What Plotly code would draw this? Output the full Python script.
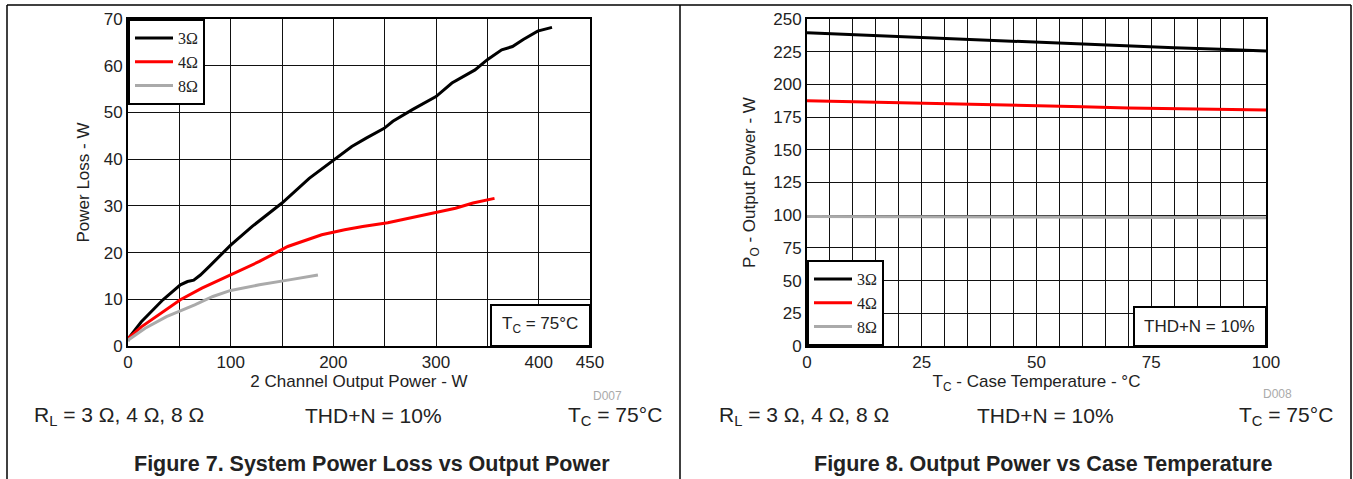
import plotly.graph_objects as go

W, H = 1353, 479

# ---- Figure 7 data: System Power Loss vs Output Power ----
p3_x = [0, 1, 13, 34, 51, 58, 64, 70.5, 79, 100, 121, 150, 176.5, 201, 218, 232, 249.5, 258, 277, 300, 315.5, 338, 350, 364, 374.5, 385, 399, 413]
p3_y = [1.3, 1.8, 5.2, 9.9, 13.1, 13.8, 14.1, 15.2, 17.0, 21.6, 25.6, 30.6, 35.9, 39.9, 42.7, 44.5, 46.6, 48.1, 50.6, 53.4, 56.3, 59.1, 61.3, 63.4, 64.1, 65.6, 67.4, 68.2]
p4_x = [0, 1, 13, 34, 51, 72, 100, 128, 155.6, 188.7, 211, 228.6, 253, 274, 298, 319, 336, 357]
p4_y = [1.3, 1.8, 4.1, 7.4, 9.9, 12.4, 15.2, 18.1, 21.3, 23.8, 24.9, 25.6, 26.4, 27.4, 28.4, 29.5, 30.6, 31.6]
p8_x = [0, 1, 16.7, 37.5, 65, 82.7, 100, 128, 155.6, 185]
p8_y = [1.0, 1.4, 3.8, 6.3, 8.8, 10.6, 11.9, 13.1, 14.1, 15.2]

# ---- Figure 8 data: Output Power vs Case Temperature ----
t = [0, 10, 20, 30, 40, 50, 60, 70, 80, 90, 100]
po3 = [239.5, 238.0, 236.5, 235.0, 233.5, 232.5, 231.0, 229.5, 228.0, 226.8, 225.5]
po4 = [187.5, 186.8, 186.0, 185.3, 184.6, 184.0, 183.0, 182.0, 181.5, 181.0, 180.5]
po8 = [99.0, 98.9, 98.8, 98.7, 98.6, 98.5, 98.4, 98.3, 98.2, 98.1, 98.0]

series_names = ["3\u03a9", "4\u03a9", "8\u03a9"]
colors = ["#000000", "#ff0000", "#aaaaaa"]

x7_ticks = [0, 50, 100, 150, 200, 250, 300, 350, 400, 450]
x7_text = ["0", "", "100", "", "200", "", "300", "", "400", "450"]
y7_ticks = [0, 10, 20, 30, 40, 50, 60, 70]
x8_ticks = list(range(0, 101, 5))
x8_text = [str(v) if v % 25 == 0 else "" for v in x8_ticks]
y8_ticks = list(range(0, 251, 25))

FONT = "Liberation Sans, Arial, sans-serif"
SERIF = "Liberation Serif, Times New Roman, serif"

def px(x):
    return x / W

def py(y):
    return 1 - y / H

fig = go.Figure()

for xs, ys, n, c in zip([p3_x, p4_x, p8_x], [p3_y, p4_y, p8_y], series_names, colors):
    fig.add_trace(go.Scatter(x=xs, y=ys, mode="lines", name=n, line=dict(color=c, width=3),
                             xaxis="x", yaxis="y", legend="legend"))
for ys, n, c in zip([po3, po4, po8], series_names, colors):
    fig.add_trace(go.Scatter(x=t, y=ys, mode="lines", name=n, line=dict(color=c, width=3),
                             xaxis="x2", yaxis="y2", legend="legend2"))

axis_common = dict(showline=True, mirror=True, linecolor="black", linewidth=2, automargin=False,
                   showgrid=True, gridcolor="#111111", gridwidth=1, zeroline=False,
                   ticks="", tickfont=dict(family=FONT, size=17, color="#222222"),
                   title_font=dict(family=FONT, size=17, color="#222222"))

legend_common = dict(xanchor="left", bgcolor="white", bordercolor="black", borderwidth=2,
                     font=dict(family=SERIF, size=16, color="#222222"),
                     tracegroupgap=0, itemwidth=38)

fig.update_layout(
    width=W, height=H,
    margin=dict(l=0, r=0, t=0, b=0, autoexpand=False),
    paper_bgcolor="white", plot_bgcolor="white",
    font=dict(family=FONT, color="#222222"),
    xaxis=dict(domain=[px(128), px(590)], range=[0, 450], tickvals=x7_ticks, ticktext=x7_text,
               anchor="y", title=dict(text="2 Channel Output Power - W", standoff=0), **axis_common),
    yaxis=dict(domain=[py(346), py(19)], range=[0, 70], tickvals=y7_ticks,
               anchor="x", title=dict(text="Power Loss - W", standoff=10), **axis_common),
    xaxis2=dict(domain=[px(807), px(1266)], range=[0, 100], tickvals=x8_ticks, ticktext=x8_text,
                anchor="y2", title=dict(text="T<sub>C</sub> - Case Temperature - \u00b0C", standoff=0), **axis_common),
    yaxis2=dict(domain=[py(346), py(19)], range=[0, 250], tickvals=y8_ticks,
                anchor="x2", title=dict(text="P<sub>O</sub> - Output Power - W", standoff=13), **axis_common),
    legend=dict(x=px(128), y=py(19), yanchor="top", **legend_common),
    legend2=dict(x=px(807), y=py(346), yanchor="bottom", **legend_common),
    showlegend=True,
)

shapes = []
# outer frame
shapes.append(dict(type="line", xref="paper", yref="paper", x0=px(7), x1=px(1351), y0=py(5), y1=py(5),
                   line=dict(color="black", width=1.5)))
for xv in [7, 680, 1351]:
    shapes.append(dict(type="line", xref="paper", yref="paper", x0=px(xv), x1=px(xv), y0=py(5), y1=0,
                       line=dict(color="black", width=1.5)))
# condition boxes
shapes.append(dict(type="rect", xref="paper", yref="paper", x0=px(491), x1=px(590), y0=py(346), y1=py(305),
                   line=dict(color="black", width=2), fillcolor="white", layer="above"))
shapes.append(dict(type="rect", xref="paper", yref="paper", x0=px(1134), x1=px(1266), y0=py(346), y1=py(307),
                   line=dict(color="black", width=2), fillcolor="white", layer="above"))
fig.update_layout(shapes=shapes)

ann = []
def text(x, y, s, size=18, xanchor="center", bold=False, color="#222222"):
    ann.append(dict(xref="paper", yref="paper", x=px(x), y=py(y), text=("<b>%s</b>" % s) if bold else s,
                    showarrow=False, xanchor=xanchor, yanchor="middle",
                    font=dict(family=FONT, size=size, color=color)))

text(540, 325, "T<sub>C</sub> = 75\u00b0C", size=17)
text(1199, 326, "THD+N = 10%", size=17)
text(607, 396, "D007", size=12, color="#aaaaaa")
text(1277, 394, "D008", size=12, color="#aaaaaa")
# condition lines
text(32, 416, "R<sub>L</sub> = 3 \u03a9, 4 \u03a9, 8 \u03a9", size=21, xanchor="left")
text(373, 415, "THD+N = 10%", size=21)
text(664, 416, "T<sub>C</sub> = 75\u00b0C", size=21, xanchor="right")
text(717, 416, "R<sub>L</sub> = 3 \u03a9, 4 \u03a9, 8 \u03a9", size=21, xanchor="left")
text(1045, 415, "THD+N = 10%", size=21)
text(1335, 416, "T<sub>C</sub> = 75\u00b0C", size=21, xanchor="right")
# captions
text(372, 464, "Figure 7. System Power Loss vs Output Power", size=21.5, bold=True)
text(1043, 464, "Figure 8. Output Power vs Case Temperature", size=21.5, bold=True)
fig.update_layout(annotations=ann)

fig.write_html("out.html", config={"displayModeBar": False},
               post_script="document.body.style.margin='0';document.body.style.overflow='hidden';")
